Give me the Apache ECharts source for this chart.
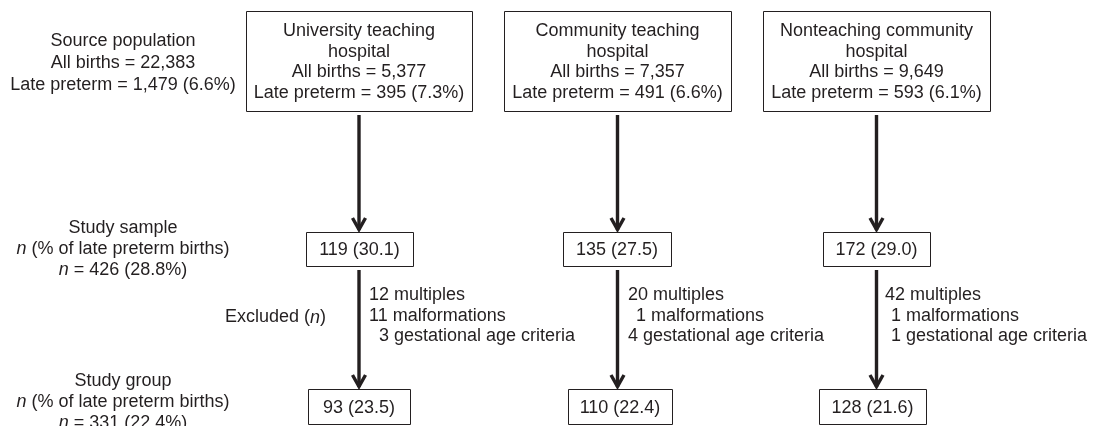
<!DOCTYPE html>
<html lang="en">
<head>
    <meta charset="UTF-8">
    <title>Late preterm births flow</title>
    <style>
        html, body { margin: 0; padding: 0; background: #fff; }
        #main { width: 1097px; height: 426px; }
    </style>
</head>
<body>
<div id="main"></div>
<script src="https://cdn.jsdelivr.net/npm/echarts@6/dist/echarts.min.js"></script>
<script>
    // data
    var hospitals = ['University teaching\nhospital', 'Community teaching\nhospital', 'Nonteaching community\nhospital'];
    var allBirths = [5377, 7357, 9649];
    var latePreterm = [395, 491, 593];
    var latePct = [7.3, 6.6, 6.1];
    var sampleN = [119, 135, 172];
    var samplePct = [30.1, 27.5, 29.0];
    var groupN = [93, 110, 128];
    var groupPct = [23.5, 22.4, 21.6];
    var exclMultiples = [12, 20, 42];
    var exclMalformations = [11, 1, 1];
    var exclGestational = [3, 4, 1];
    var sourceTotal = [22383, 1479, 6.6];   // all births, late preterm, %
    var sampleTotal = [426, 28.8];
    var groupTotal = [331, 22.4];

    // layout (in the 1097 x 426 frame of the axes)
    var INK = '#231f20';
    var FONT = '"Liberation Sans", Arial, Helvetica, sans-serif';
    var colX = [359, 617.5, 876.5];
    var topBox = [[246, 472], [504, 731], [763, 990]];
    var midBox = [[306, 413], [563, 671], [823, 930]];
    var botBox = [[308, 410], [568, 672], [819, 926]];
    var exclX = [[369, 369, 379], [628, 636, 628], [885, 891, 891]];

    var fmt = function (n) {
        return String(n).replace(/\B(?=(\d{3})+(?!\d))/g, ',');
    };

    var makeHelpers = function (api) {
        var P = function (x, y) { return api.coord([x, y]); };
        return {
            box: function (x0, y0, x1, y1) {
                var a = P(x0, y0), b = P(x1, y1);
                return {
                    type: 'rect',
                    shape: {x: Math.round(a[0]) + 0.5, y: Math.round(a[1]) + 0.5,
                        width: Math.round(b[0] - a[0]), height: Math.round(b[1] - a[1])},
                    style: {fill: '#fff', stroke: INK, lineWidth: 1}
                };
            },
            arrow: function (x, y0, tip) {
                var a = P(x, y0), t = P(x, tip);
                return {
                    type: 'group',
                    children: [{
                        type: 'line',
                        shape: {x1: a[0], y1: a[1], x2: t[0], y2: t[1] - 2},
                        style: {stroke: INK, lineWidth: 3.4}
                    }, {
                        type: 'polyline',
                        shape: {points: [[t[0] - 6.5, t[1] - 14], [t[0], t[1] - 2.5], [t[0] + 6.5, t[1] - 14]]},
                        style: {stroke: INK, lineWidth: 3.4, fill: null, lineJoin: 'miter'}
                    }]
                };
            },
            text: function (str, x, y, align) {
                var p = P(x, y);
                return {
                    type: 'text',
                    style: {
                        text: str, x: p[0], y: p[1],
                        align: align || 'center', verticalAlign: 'middle',
                        fill: INK, fontSize: 18, fontFamily: FONT,
                        rich: {
                            i: {fontSize: 18, fontFamily: FONT, fontStyle: 'italic', fill: INK},
                            r: {fontSize: 18, fontFamily: FONT, fill: INK}
                        }
                    }
                };
            }
        };
    };

    var renderColumn = function (params, api) {
        var i = api.value(0);
        var h = makeHelpers(api);
        var kids = [];
        var name = hospitals[i].split('\n');

        kids.push(h.box(topBox[i][0], 11, topBox[i][1], 111));
        var topLines = [
            name[0], name[1],
            'All births = ' + fmt(allBirths[i]),
            'Late preterm = ' + fmt(latePreterm[i]) + ' (' + latePct[i].toFixed(1) + '%)'
        ];
        var cxTop = (topBox[i][0] + topBox[i][1]) / 2;
        topLines.forEach(function (s, k) {
            kids.push(h.text(s, cxTop, 31.5 + k * 20.4));
        });

        kids.push(h.arrow(colX[i], 115, 232));
        kids.push(h.box(midBox[i][0], 232, midBox[i][1], 266));
        kids.push(h.text(sampleN[i] + ' (' + samplePct[i].toFixed(1) + ')',
            (midBox[i][0] + midBox[i][1]) / 2, 250.5));

        kids.push(h.arrow(colX[i], 270, 389));
        var exclLines = [
            exclMultiples[i] + ' multiples',
            exclMalformations[i] + ' malformations',
            exclGestational[i] + ' gestational age criteria'
        ];
        exclLines.forEach(function (s, k) {
            kids.push(h.text(s, exclX[i][k], 295.4 + k * 20.3, 'left'));
        });

        kids.push(h.box(botBox[i][0], 389, botBox[i][1], 424));
        kids.push(h.text(groupN[i] + ' (' + groupPct[i].toFixed(1) + ')',
            (botBox[i][0] + botBox[i][1]) / 2, 408.5));

        return {type: 'group', children: kids};
    };

    var renderLabels = function (params, api) {
        var h = makeHelpers(api);
        var cx = 123;
        var nLine = '{i|n}{r| (% of late preterm births)}';
        var kids = [
            h.text('Source population', cx, 41),
            h.text('All births = ' + fmt(sourceTotal[0]), cx, 62.8),
            h.text('Late preterm = ' + fmt(sourceTotal[1]) + ' (' + sourceTotal[2].toFixed(1) + '%)', cx, 85),

            h.text('Study sample', cx, 228),
            h.text(nLine, cx, 249),
            h.text('{i|n}{r| = ' + sampleTotal[0] + ' (' + sampleTotal[1].toFixed(1) + '%)}', cx, 270),

            h.text('{r|Excluded (}{i|n}{r|)}', 326, 317.5, 'right'),

            h.text('Study group', cx, 381.5),
            h.text(nLine, cx, 402),
            h.text('{i|n}{r| = ' + groupTotal[0] + ' (' + groupTotal[1].toFixed(1) + '%)}', cx, 422.6)
        ];
        return {type: 'group', children: kids};
    };

    var chart = echarts.init(document.getElementById('main'), null, {renderer: 'canvas'});
    chart.setOption({
        animation: false,
        backgroundColor: '#fff',
        grid: {left: 0, right: 0, top: 0, bottom: 0},
        xAxis: {type: 'value', min: 0, max: 1097, show: false},
        yAxis: {type: 'value', min: 0, max: 426, inverse: true, show: false},
        series: [{
            type: 'custom',
            renderItem: renderColumn,
            data: [[0], [1], [2]],
            silent: true,
            clip: false
        }, {
            type: 'custom',
            renderItem: renderLabels,
            data: [[0]],
            silent: true,
            clip: false
        }]
    });
</script>
</body>
</html>
